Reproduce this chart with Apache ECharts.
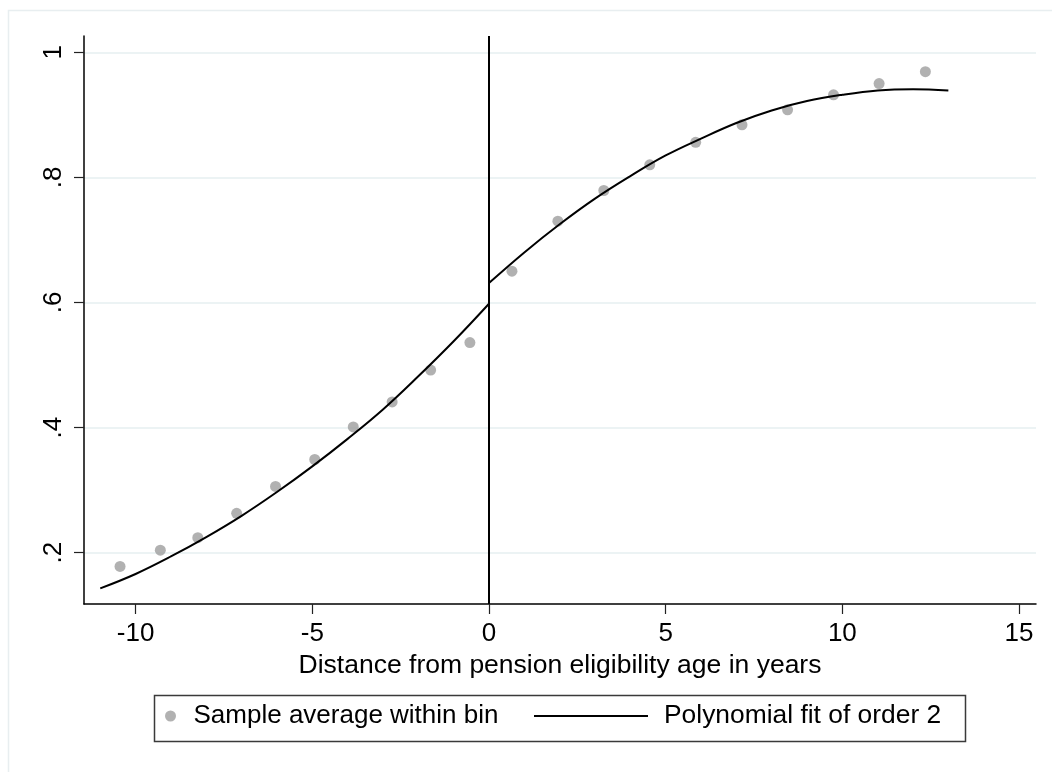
<!DOCTYPE html>
<html>
<head>
<meta charset="utf-8">
<script src="https://cdn.jsdelivr.net/npm/echarts@6/dist/echarts.min.js"></script>
<style>
html,body{margin:0;padding:0;background:#fff;}
#chart{width:1052px;height:772px;}
</style>
</head>
<body>
<div id="chart"></div>
<script>
// Binned sample averages
const binX = [-10.44, -9.30, -8.24, -7.14, -6.04, -4.93, -3.84, -2.74, -1.65, -0.54,
              0.65, 1.95, 3.25, 4.55, 5.85, 7.16, 8.45, 9.75, 11.04, 12.35];
const binY = [0.178, 0.204, 0.224, 0.263, 0.306, 0.349, 0.401, 0.441, 0.492, 0.536,
              0.650, 0.730, 0.779, 0.820, 0.856, 0.884, 0.908, 0.932, 0.950, 0.969];
// Polynomial fit (left and right of the cutoff)
const fitLeftX = [-11, -10, -9, -8, -7, -6, -5, -4, -3, -2, -1, 0];
const fitLeftY = [0.143, 0.166, 0.194, 0.225, 0.259, 0.297, 0.338, 0.382, 0.429, 0.482, 0.538, 0.598];
const fitRightX = [0, 1, 2, 3, 4, 5, 6, 7, 8, 9, 10, 11, 12, 13];
const fitRightY = [0.631, 0.680, 0.725, 0.766, 0.802, 0.835, 0.862, 0.887, 0.907, 0.922, 0.932, 0.939, 0.941, 0.939];
// Tick labels
const xTicks = [-10, -5, 0, 5, 10, 15];
const yTicks = [0.2, 0.4, 0.6, 0.8, 1];
const cutoff = 0;
const nameBin = 'Sample average within bin';
const nameFit = 'Polynomial fit of order 2';

const FONT = "'Liberation Sans', Arial, Helvetica, sans-serif";
const chart = echarts.init(document.getElementById('chart'), null, {renderer: 'canvas'});

function zip(xs, ys) { return xs.map((x, i) => [x, ys[i]]); }

const option = {
  animation: false,
  backgroundColor: '#ffffff',
  textStyle: {fontFamily: FONT},
  grid: {left: 84, right: 16, top: 36, bottom: 168, containLabel: false},
  graphic: [
    {type: 'rect', silent: true, z: -10,
     shape: {x: 8.5, y: 10.5, width: 1100, height: 800},
     style: {fill: 'none', stroke: '#e8eef0', lineWidth: 1.5}},
    {type: 'rect', silent: true,
     shape: {x: 154.5, y: 695.5, width: 811, height: 46},
     style: {fill: 'none', stroke: '#3a3a3a', lineWidth: 1.5}}
  ],
  legend: [
    {data: [nameBin], left: 165, top: 703, padding: 0, itemWidth: 36, itemHeight: 11,
     selectedMode: false,
     textStyle: {fontFamily: FONT, fontSize: 26, color: '#000'}},
    {data: [{name: nameFit, icon: 'rect'}], left: 534, top: 703, padding: 0, itemWidth: 114, itemHeight: 2,
     selectedMode: false,
     textStyle: {fontFamily: FONT, fontSize: 26.4, color: '#000', padding: [0, 0, 0, 11]}}
  ],
  xAxis: {
    type: 'value', min: -11.46, max: 15.48,
    name: 'Distance from pension eligibility age in years',
    nameLocation: 'middle', nameGap: 41,
    nameTextStyle: {fontFamily: FONT, fontSize: 26.5, color: '#000'},
    axisLine: {show: true, onZero: false, lineStyle: {color: '#000', width: 1.5}},
    axisTick: {show: true, length: 10, customValues: xTicks, lineStyle: {color: '#222', width: 1.2}},
    axisLabel: {customValues: xTicks, fontFamily: FONT, fontSize: 26, color: '#000', margin: 17},
    splitLine: {show: false}
  },
  yAxis: {
    type: 'value', min: 0.118, max: 1.026,
    axisLine: {show: true, onZero: false, lineStyle: {color: '#000', width: 1.5}},
    axisTick: {show: true, length: 10, customValues: yTicks, lineStyle: {color: '#222', width: 1.2}},
    axisLabel: {customValues: yTicks, rotate: 90, fontFamily: FONT, fontSize: 26, color: '#000', margin: 17,
      formatter: v => (Math.abs(v - 1) < 1e-9 ? '1' : String(+v.toFixed(2)).replace(/^0/, ''))},
    splitLine: {show: true, lineStyle: {color: '#e6eff1', width: 1.5}}
  },
  series: [
    {name: nameBin, type: 'scatter', data: zip(binX, binY), symbol: 'circle', symbolSize: 11,
     itemStyle: {color: '#9e9e9e'}, z: 3},
    {name: nameFit, type: 'line', data: zip(fitLeftX, fitLeftY), smooth: 0.4, showSymbol: false,
     symbol: 'none', lineStyle: {color: '#000', width: 2}, itemStyle: {color: '#000'}, z: 4,
     markLine: {silent: true, symbol: ['none', 'none'], label: {show: false},
       lineStyle: {color: '#000', width: 2, type: 'solid'}, data: [{xAxis: cutoff}]}},
    {name: nameFit, type: 'line', data: zip(fitRightX, fitRightY), smooth: 0.4, showSymbol: false,
     symbol: 'none', lineStyle: {color: '#000', width: 2}, itemStyle: {color: '#000'}, z: 4}
  ]
};
chart.setOption(option);
</script>
</body>
</html>
